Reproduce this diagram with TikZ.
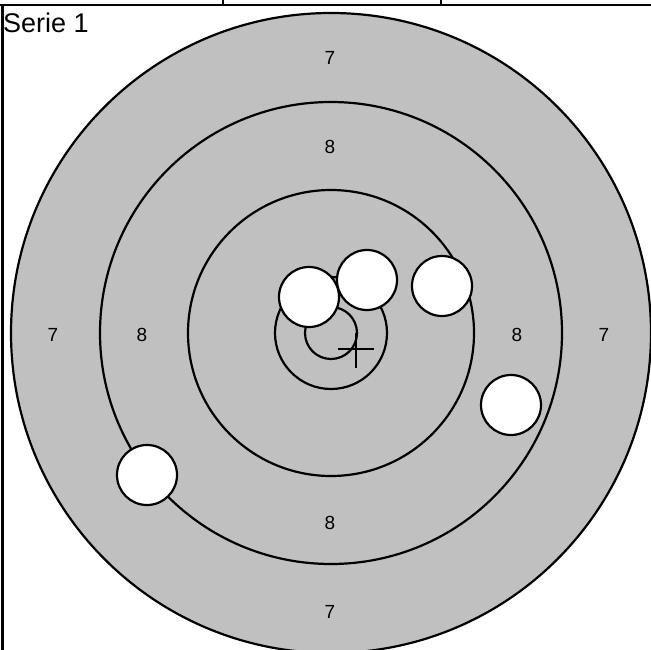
\documentclass[tikz,border=0pt]{standalone}
\usepackage{fontspec}
\setmainfont{Liberation Sans}
\definecolor{targetgray}{HTML}{C0C0C0}
\tikzset{
  ring/.style={draw=black, line width=2.2pt, fill=targetgray},
  hole/.style={circle, draw=black, line width=2.2pt, fill=white, minimum size=60pt, inner sep=0pt},
  score/.style={font=\fontsize{19}{19}\selectfont, inner sep=0pt, anchor=center},
  frameline/.style={line width=2.2pt, black}
}
\begin{document}
\begin{tikzpicture}[x=1pt, y=-1pt]
\useasboundingbox (0,0) rectangle (651,650);
% frame
\draw[frameline] (0,5) -- (651,5);
\draw[frameline] (2.5,4) -- (2.5,650);
\draw[frameline] (223,0) -- (223,5);
\draw[frameline] (441,0) -- (441,5);
% target
\coordinate (c) at (331,333);
\draw[ring] (c) circle[radius=320];
\draw[ring] (c) circle[radius=231];
\draw[ring] (c) circle[radius=143];
\draw[ring] (c) circle[radius=56];
\draw[ring] (c) circle[radius=26];
% labels
\node[score] (t7) at (330,58) {7};
\node[score] (t8) at (330,147) {8};
\node[score] (l7) at (53,335) {7};
\node[score] (l8) at (142,335) {8};
\node[score] (r8) at (517,335) {8};
\node[score] (r7) at (604,335) {7};
\node[score] (b8) at (330,523) {8};
\node[score] (b7) at (330,612) {7};
% cross
\coordinate (x) at (356,349);
\draw[line width=2.2pt] ([xshift=-18pt]x) -- ([xshift=18pt]x);
\draw[line width=2.2pt] ([yshift=16pt]x) -- ([yshift=-19pt]x);
% holes
\node[hole] (h1) at (309,297) {};
\node[hole] (h2) at (367,280) {};
\node[hole] (h3) at (442,286) {};
\node[hole] (h4) at (511,405) {};
\node[hole] (h5) at (147,475) {};
% title
\node[anchor=base west, inner sep=0pt, font=\fontsize{27}{27}\selectfont] (title) at (3,33) {Serie 1};
\end{tikzpicture}
\end{document}
